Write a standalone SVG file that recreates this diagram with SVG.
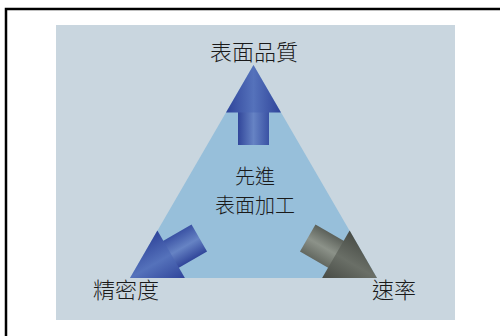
<svg xmlns="http://www.w3.org/2000/svg" width="500" height="336" viewBox="0 0 500 336">
  <style>
    .lbl { font-family: "Noto Sans CJK TC", "Noto Sans CJK SC", sans-serif; font-size: 22px; fill: #1a1a1a; text-anchor: middle; font-weight: 300; }
    .ctr { font-size: 20px; }
  </style>
  <defs>
    <linearGradient id="shaftBlue" gradientUnits="userSpaceOnUse" x1="-15.5" y1="0" x2="15.5" y2="0">
      <stop offset="0" stop-color="#31469a"/>
      <stop offset="0.5" stop-color="#6683c4"/>
      <stop offset="1" stop-color="#3a52a4"/>
    </linearGradient>
    <linearGradient id="headBlue" gradientUnits="userSpaceOnUse" x1="-27.5" y1="0" x2="27.5" y2="0">
      <stop offset="0" stop-color="#2f449a"/>
      <stop offset="0.5" stop-color="#5572bb"/>
      <stop offset="1" stop-color="#2f449a"/>
    </linearGradient>
    <linearGradient id="shaftGray" gradientUnits="userSpaceOnUse" x1="-15.5" y1="0" x2="15.5" y2="0">
      <stop offset="0" stop-color="#5c615a"/>
      <stop offset="0.5" stop-color="#8c9289"/>
      <stop offset="1" stop-color="#636860"/>
    </linearGradient>
    <linearGradient id="headGray" gradientUnits="userSpaceOnUse" x1="-27.5" y1="0" x2="27.5" y2="0">
      <stop offset="0" stop-color="#474b45"/>
      <stop offset="0.5" stop-color="#6a6f67"/>
      <stop offset="1" stop-color="#474b45"/>
    </linearGradient>
  </defs>

  <rect x="0" y="0" width="500" height="336" fill="#ffffff"/>
  <rect x="6" y="9" width="500" height="340" fill="none" stroke="#000000" stroke-width="2.5"/>
  <rect id="panel" x="56" y="25" width="399" height="295" fill="#c9d6df"/>

  <g id="triangle">
    <polygon points="253.5,65 130,278 377,278" fill="#97bfda"/>
  </g>

  <g id="connectors">
    <g id="arrow-top" transform="translate(253.5,65)">
      <rect x="-15.5" y="46" width="31" height="34" fill="url(#shaftBlue)"/>
      <polygon points="0,0 27.5,47.5 -27.5,47.5" fill="url(#headBlue)"/>
    </g>
    <g id="arrow-left" transform="translate(130,278) rotate(-120)">
      <rect x="-15.5" y="46" width="31" height="34" fill="url(#shaftBlue)"/>
      <polygon points="0,0 27.5,47.5 -27.5,47.5" fill="url(#headBlue)"/>
    </g>
    <g id="arrow-right" transform="translate(377,278) rotate(120)">
      <rect x="-15.5" y="46" width="31" height="34" fill="url(#shaftGray)"/>
      <polygon points="0,0 27.5,47.5 -27.5,47.5" fill="url(#headGray)"/>
    </g>
  </g>

  <g id="node-quality"><text class="lbl" x="254" y="60">表面品質</text></g>
  <g id="node-center">
    <text class="lbl ctr" x="255" y="184">先進</text>
    <text class="lbl ctr" x="255" y="213">表面加工</text>
  </g>
  <g id="node-precision"><text class="lbl" x="126" y="298">精密度</text></g>
  <g id="node-rate"><text class="lbl" x="394" y="298">速率</text></g>
</svg>
